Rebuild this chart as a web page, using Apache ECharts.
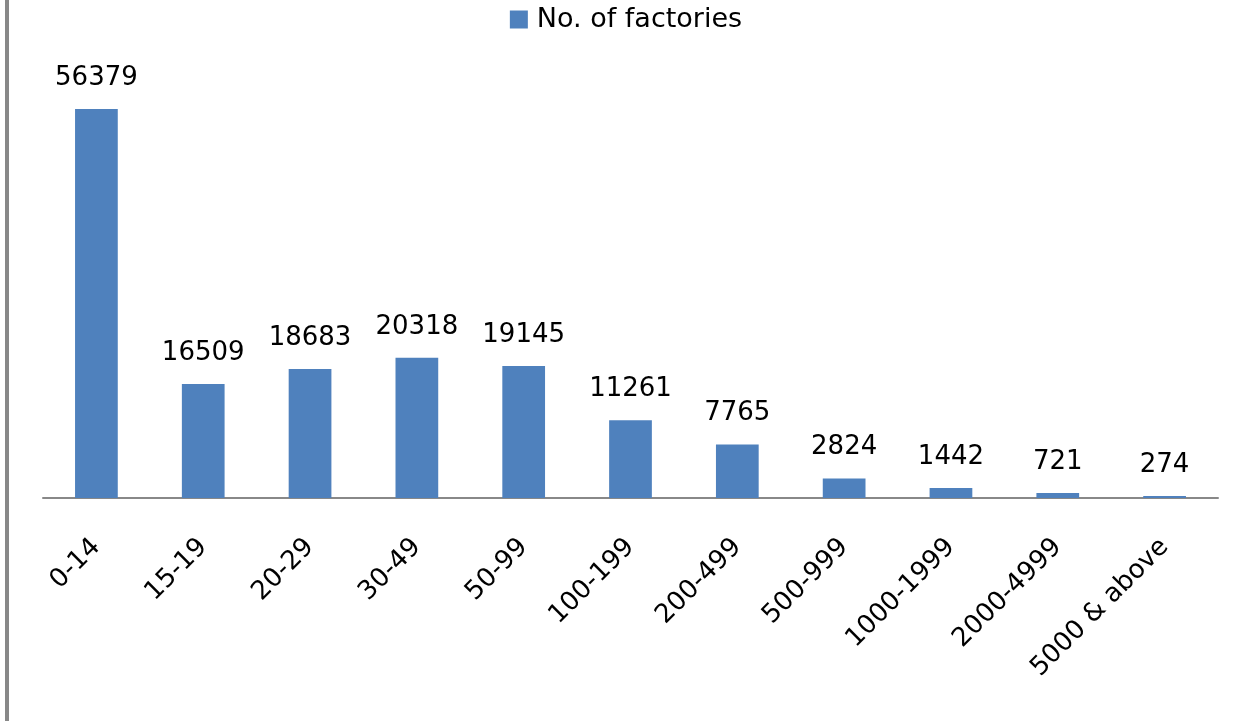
<!DOCTYPE html>
<html lang="en" style="height: 100%">
<head>
    <meta charset="UTF-8">
    <title>No. of factories</title>
    <script src="https://cdn.jsdelivr.net/npm/echarts@6/dist/echarts.min.js"></script>
</head>
<body style="height: 100%; margin: 0">
<div id="main" style="width: 1252px; height: 721px"></div>
<script>
    var categories = ['0-14', '15-19', '20-29', '30-49', '50-99', '100-199', '200-499', '500-999', '1000-1999', '2000-4999', '5000 & above'];
    var factories = [56379, 16509, 18683, 20318, 19145, 11261, 7765, 2824, 1442, 721, 274];

    var myChart = echarts.init(document.getElementById('main'));
    var option = {
        animation: false,
        textStyle: { fontFamily: 'DejaVu Sans' },
        graphic: [{
            type: 'rect',
            shape: { x: 5, y: 0, width: 4, height: 721 },
            style: { fill: '#888888' }
        }],
        legend: {
            data: ['No. of factories'],
            top: 1,
            left: 'center',
            icon: 'rect',
            itemWidth: 18,
            itemHeight: 18,
            itemGap: 8,
            textStyle: { fontSize: 27, color: '#000', padding: [0, 0, 0, 4] }
        },
        grid: {
            left: 43,
            right: 34,
            top: 84,
            bottom: 223
        },
        xAxis: {
            type: 'category',
            data: categories,
            axisLine: { lineStyle: { color: '#888888', width: 2 } },
            axisTick: { show: false },
            axisLabel: {
                rotate: 45,
                interval: 0,
                margin: 45,
                fontSize: 26,
                color: '#000'
            }
        },
        yAxis: {
            type: 'value',
            min: 0,
            max: 60000,
            show: false,
            splitLine: { show: false }
        },
        series: [{
            name: 'No. of factories',
            type: 'bar',
            data: factories,
            barWidth: '40%',
            itemStyle: { color: '#4F81BD' },
            label: {
                show: true,
                position: 'top',
                distance: 18,
                fontSize: 26,
                color: '#000'
            }
        }]
    };
    myChart.setOption(option);
</script>
</body>
</html>
